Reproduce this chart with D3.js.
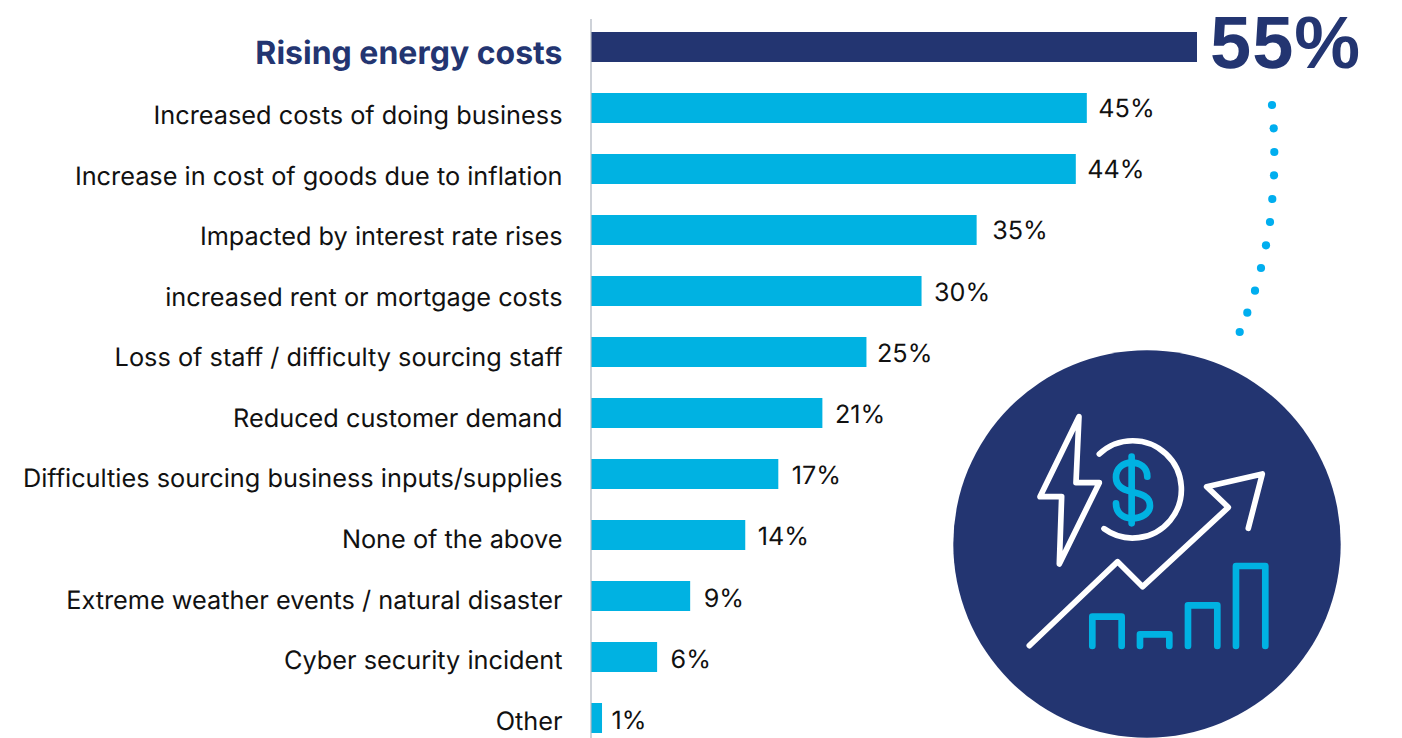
<!DOCTYPE html>
<html>
<head>
<meta charset="utf-8">
<script src="https://cdnjs.cloudflare.com/ajax/libs/d3/7.9.0/d3.min.js"></script>
<style>
  html, body { margin: 0; padding: 0; background: #fff; overflow: hidden; }
  svg { display: block; }
  text { font-family: Inter, "Noto Sans", sans-serif; text-rendering: geometricPrecision; }
</style>
</head>
<body>
<svg id="chart" width="1402" height="738"></svg>
<script>
// Business impacts, share of respondents
const categories = [
  "Rising energy costs",
  "Increased costs of doing business",
  "Increase in cost of goods due to inflation",
  "Impacted by interest rate rises",
  "increased rent or mortgage costs",
  "Loss of staff / difficulty sourcing staff",
  "Reduced customer demand",
  "Difficulties sourcing business inputs/supplies",
  "None of the above",
  "Extreme weather events / natural disaster",
  "Cyber security incident",
  "Other"
];
const shares = [55, 45, 44, 35, 30, 25, 21, 17, 14, 9, 6, 1];

const NAVY = "#233571";
const CYAN = "#00B2E2";
const DOT = "#00AEEF";

const svg = d3.select("#chart");

const x = d3.scaleLinear().domain([0, 55]).range([591, 1197]);
const y = d3.scaleBand().domain(categories).range([32, 733]).paddingInner(31 / 61).paddingOuter(0);

// Text columns run on their own pitch, slightly off the bars
const rest = categories.slice(1);
const labelY = d3.scalePoint().domain(rest).range([115, 720.6]);
const valueY = d3.scalePoint().domain(rest).range([108, 720]);

// Hand kerning for the value labels
const valueNudge = [-1, -1, 3, 0, -2, 0, 1, 0, 1, 1, -3];

svg.append("g").selectAll("rect")
  .data(categories)
  .join("rect")
  .attr("x", x(0))
  .attr("y", d => y(d))
  .attr("width", (d, i) => x(shares[i]) - x(0))
  .attr("height", y.bandwidth())
  .attr("fill", (d, i) => i === 0 ? NAVY : CYAN);

svg.append("line")
  .attr("x1", x(0)).attr("x2", x(0))
  .attr("y1", 19).attr("y2", 738)
  .attr("stroke", "#AEB4BF")
  .attr("stroke-width", 1.2);

// Category labels
svg.append("g").selectAll("text")
  .data(categories)
  .join("text")
  .attr("x", 562.5)
  .attr("y", (d, i) => i === 0 ? 52 : labelY(d))
  .attr("dy", "0.36em")
  .attr("text-anchor", "end")
  .attr("font-size", (d, i) => i === 0 ? 32 : 25.3)
  .attr("font-weight", (d, i) => i === 0 ? 700 : 400)
  .attr("fill", (d, i) => i === 0 ? NAVY : "#111")
  .text(d => d);

// Value labels
svg.append("g").selectAll("text")
  .data(rest)
  .join("text")
  .attr("x", (d, i) => x(shares[i + 1]) + 12.5 + valueNudge[i])
  .attr("y", d => valueY(d))
  .attr("dy", "0.36em")
  .attr("font-size", 25.2)
  .attr("fill", "#111")
  .text((d, i) => shares[i + 1] + "%");

svg.append("text")
  .attr("x", 1210)
  .attr("y", 68)
  .attr("font-size", 74)
  .attr("font-weight", 700)
  .attr("letter-spacing", 1)
  .style("font-family", "'Liberation Sans', Arial, sans-serif")
  .attr("fill", NAVY)
  .text(shares[0] + "%");

// Dotted connector from the headline figure down to the badge
const connector = [
  [1272, 105], [1273.7, 128.3], [1274.3, 152], [1274, 175.3], [1272.3, 199],
  [1270, 222], [1266, 245.3], [1261, 268], [1255, 290.7], [1247.3, 312.7], [1239.7, 332]
];
svg.append("g").selectAll("circle")
  .data(connector)
  .join("circle")
  .attr("cx", d => d[0])
  .attr("cy", d => d[1])
  .attr("r", 4.1)
  .attr("fill", DOT);

// Badge: energy bolt, coin, rising arrow and small bars
svg.append("circle")
  .attr("cx", 1147).attr("cy", 544).attr("r", 193.7)
  .attr("fill", NAVY);

const icon = svg.append("g")
  .attr("transform", "translate(940,340) scale(0.3333)")
  .attr("fill", "none")
  .attr("stroke-linecap", "round")
  .attr("stroke-linejoin", "round");

const whitePaths = [
  "M417,230 L408,428 L478,428 L358,672 L365,470 L300,470 Z",
  "M478,342 A146,146 0 1 1 492,566",
  "M268,917 L533,665 L608,740 L865,502 L800,440 L967,402 L925,565"
];
const cyanPaths = [
  "M575,350 V550",
  "M622,410 C622,382 600,368 575,368 C548,368 528,385 528,412 C528,440 550,450 575,455 C605,462 630,470 630,497 C630,520 605,535 575,535 C550,535 528,520 528,490",
  "M457,918 V830 H545 V918",
  "M600,918 V883 H688 V918",
  "M744,918 V796 H832 V918",
  "M888,918 V678 H976 V918"
];

icon.append("g").attr("stroke", "#fff").attr("stroke-width", 17)
  .selectAll("path").data(whitePaths).join("path").attr("d", d => d);
icon.append("g").attr("stroke", CYAN).attr("stroke-width", 20)
  .selectAll("path").data(cyanPaths).join("path").attr("d", d => d);
</script>
</body>
</html>
